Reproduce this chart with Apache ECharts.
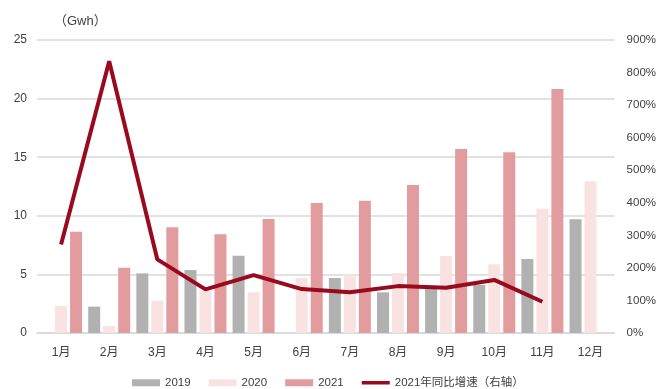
<!DOCTYPE html>
<html>
<head>
<meta charset="utf-8">
<script src="https://cdn.jsdelivr.net/npm/echarts@6/dist/echarts.min.js"></script>
<style>
  html, body { margin: 0; padding: 0; background: #fff; }
  #chart { width: 659px; height: 389px; }
</style>
</head>
<body>
<div id="chart"></div>
<script>
// Monthly installations (Gwh) and 2021 year-on-year growth
const months = ['1月', '2月', '3月', '4月', '5月', '6月', '7月', '8月', '9月', '10月', '11月', '12月'];
const v2019 = [null, 2.25, 5.09, 5.37, 6.6, null, 4.69, 3.47, 3.8, 4.1, 6.31, 9.7];
const v2020 = [2.3, 0.6, 2.76, 3.58, 3.47, 4.69, 5.0, 5.1, 6.57, 5.87, 10.6, 12.94];
const v2021 = [8.64, 5.57, 9.02, 8.42, 9.73, 11.09, 11.29, 12.63, 15.7, 15.42, 20.82, null];
const growth2021 = [272, 835, 226, 134, 178, 135, 125, 144, 139, 163, 96, null];
const leftTicks = { min: 0, max: 25, interval: 5 };
const rightTicks = { min: 0, max: 900, interval: 100 };

const fontFamily = '"Liberation Sans", Arial, "Noto Sans CJK SC", sans-serif';
const textColor = '#404040';
const lineColor = '#990a1e';

const chart = echarts.init(document.getElementById('chart'), null, { renderer: 'canvas' });

const barSeries = (name, data, color) => ({
  name: name,
  type: 'bar',
  data: data,
  yAxisIndex: 0,
  barWidth: 12,
  barGap: '25%',
  itemStyle: { color: color },
  emphasis: { disabled: true }
});

chart.setOption({
  animation: false,
  textStyle: { fontFamily: fontFamily },
  grid: { left: 37, right: 39, top: 40, bottom: 56, containLabel: false },
  graphic: [{
    type: 'text',
    left: 54,
    top: 15,
    style: { text: '（Gwh）', font: '13px ' + fontFamily, fill: textColor }
  }],
  legend: {
    left: 127,
    top: 372,
    itemWidth: 28,
    itemHeight: 7,
    itemGap: 18,
    itemStyle: { borderWidth: 0 },
    textStyle: { color: textColor, fontSize: 11.5, fontFamily: fontFamily },
    data: [
      { name: '2019', icon: 'rect' },
      { name: '2020', icon: 'rect' },
      { name: '2021', icon: 'rect' },
      { name: '2021年同比增速（右轴）', icon: 'path://M0,0 L32,0 L32,4 L0,4 Z', itemStyle: { color: lineColor } }
    ]
  },
  xAxis: {
    type: 'category',
    data: months,
    axisLine: { lineStyle: { color: '#d9d9d9', width: 1.5 } },
    axisTick: { show: false },
    axisLabel: { color: textColor, fontSize: 12, margin: 14, interval: 0 }
  },
  yAxis: [
    {
      type: 'value',
      min: leftTicks.min,
      max: leftTicks.max,
      interval: leftTicks.interval,
      axisLine: { show: false },
      axisTick: { show: false },
      axisLabel: { color: textColor, fontSize: 12, margin: 10 },
      splitLine: { lineStyle: { color: '#d9d9d9', width: 1.5 } }
    },
    {
      type: 'value',
      min: rightTicks.min,
      max: rightTicks.max,
      interval: rightTicks.interval,
      position: 'right',
      axisLine: { show: false },
      axisTick: { show: false },
      splitLine: { show: false },
      axisLabel: { color: textColor, fontSize: 11.5, margin: 12, formatter: '{value}%' }
    }
  ],
  series: [
    barSeries('2019', v2019, '#b1b1b1'),
    barSeries('2020', v2020, '#f8e2e2'),
    barSeries('2021', v2021, '#e29c9d'),
    {
      name: '2021年同比增速（右轴）',
      type: 'line',
      yAxisIndex: 1,
      data: growth2021,
      symbol: 'none',
      lineStyle: { color: lineColor, width: 4 },
      itemStyle: { color: lineColor },
      z: 5
    }
  ]
});
</script>
</body>
</html>
